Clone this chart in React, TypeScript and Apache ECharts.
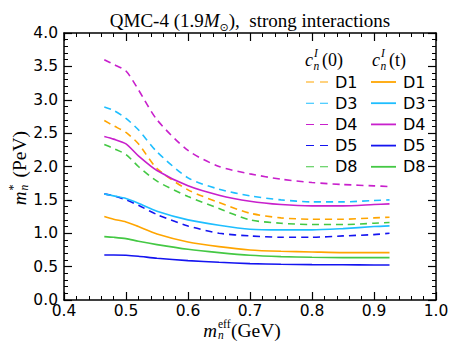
import React, { useEffect, useRef } from "react";
import * as echarts from "echarts";

const xs = [0.465, 0.48, 0.5, 0.52, 0.55, 0.6, 0.65, 0.7, 0.75, 0.8, 0.85, 0.9, 0.925];
const labels = ["D1", "D3", "D4", "D5", "D8"];
const colors = ["#FFA500", "#1EBEFF", "#C820CC", "#1414F0", "#44C844"];

// c_n^I(0): dashed
const d1Const = [2.69, 2.61, 2.51, 2.34, 1.97, 1.65, 1.46, 1.3, 1.23, 1.21, 1.21, 1.23, 1.24];
const d3Const = [2.89, 2.84, 2.72, 2.55, 2.22, 1.83, 1.66, 1.56, 1.5, 1.47, 1.47, 1.49, 1.5];
const d4Const = [3.6, 3.53, 3.43, 3.15, 2.7, 2.24, 2.0, 1.89, 1.81, 1.76, 1.73, 1.71, 1.7];
const d5Const = [1.59, 1.56, 1.5, 1.42, 1.28, 1.11, 1.0, 0.96, 0.94, 0.94, 0.96, 0.98, 1.0];
const d8Const = [2.33, 2.27, 2.18, 2.0, 1.78, 1.55, 1.37, 1.2, 1.15, 1.13, 1.13, 1.15, 1.16];

// c_n^I(t): solid
const d1Var = [1.25, 1.21, 1.17, 1.1, 0.99, 0.87, 0.8, 0.75, 0.73, 0.72, 0.71, 0.71, 0.71];
const d3Var = [1.59, 1.56, 1.52, 1.45, 1.33, 1.2, 1.12, 1.06, 1.05, 1.05, 1.07, 1.1, 1.11];
const d4Var = [2.45, 2.41, 2.34, 2.16, 1.94, 1.71, 1.57, 1.48, 1.43, 1.41, 1.41, 1.43, 1.44];
const d5Var = [0.675, 0.675, 0.67, 0.655, 0.625, 0.59, 0.565, 0.545, 0.535, 0.53, 0.528, 0.525, 0.525];
const d8Var = [0.95, 0.94, 0.92, 0.88, 0.83, 0.76, 0.71, 0.67, 0.65, 0.64, 0.635, 0.635, 0.635];

const constSets = [d1Const, d3Const, d4Const, d5Const, d8Const];
const varSets = [d1Var, d3Var, d4Var, d5Var, d8Var];

const serif = "'Liberation Serif', 'DejaVu Serif', serif";
const sans = "'DejaVu Sans', sans-serif";

function txt(x: number, y: number, text: string, size: number, opts: any = {}) {
  return {
    type: "text",
    x,
    y,
    silent: true,
    style: {
      text,
      fill: "#000",
      fontFamily: opts.family || serif,
      fontSize: size,
      fontStyle: opts.italic ? "italic" : "normal",
      textAlign: opts.align || "left",
      textVerticalAlign: "middle",
    },
  };
}

export default function App() {
  const ref = useRef<HTMLDivElement>(null);
  useEffect(() => {
    const chart = echarts.init(ref.current!, null, { renderer: "svg" });
    const series: any[] = [];
    labels.forEach((lab, i) => {
      series.push({
        name: lab + "_0",
        type: "line",
        symbol: "none",
        smooth: 0.25,
        xAxisIndex: 0,
        yAxisIndex: 0,
        lineStyle: { color: colors[i], width: 1.6, type: [7, 5] },
        itemStyle: { color: colors[i] },
        data: xs.map((x, k) => [x, constSets[i][k]]),
      });
    });
    labels.forEach((lab, i) => {
      series.push({
        name: lab + "_t",
        type: "line",
        symbol: "none",
        smooth: 0.25,
        xAxisIndex: 0,
        yAxisIndex: 0,
        lineStyle: { color: colors[i], width: 1.6, type: "solid" },
        itemStyle: { color: colors[i] },
        data: xs.map((x, k) => [x, varSets[i][k]]),
      });
    });

    const axisCommon = {
      axisLine: { show: true, onZero: false, lineStyle: { color: "#000", width: 1.5 } },
      axisTick: { show: true, inside: true, length: 8, lineStyle: { color: "#000", width: 1.2 } },
      minorTick: { show: true, splitNumber: 5, length: 4, lineStyle: { color: "#000", width: 1 } },
      splitLine: { show: false },
      minorSplitLine: { show: false },
    };

    const legendCommon = {
      orient: "vertical",
      itemHeight: 1.8,
      itemGap: 5.2,
      selectedMode: false,
      formatter: (n: string) => n.split("_")[0],
      textStyle: { fontFamily: sans, fontSize: 16, color: "#000", padding: [0, 0, 0, 2] },
    };

    const option: any = {
      animation: false,
      backgroundColor: "#fff",
      grid: { left: 64, right: 21, top: 33, bottom: 58, containLabel: false },
      xAxis: [
        {
          type: "value",
          min: 0.4,
          max: 1.0,
          interval: 0.1,
          position: "bottom",
          ...axisCommon,
          axisLabel: {
            color: "#000",
            fontFamily: sans,
            fontSize: 15.5,
            margin: 3,
            formatter: (v: number) => v.toFixed(1),
          },
        },
        {
          type: "value",
          min: 0.4,
          max: 1.0,
          interval: 0.1,
          position: "top",
          ...axisCommon,
          axisLabel: { show: false },
        },
      ],
      yAxis: [
        {
          type: "value",
          min: 0,
          max: 4,
          interval: 0.5,
          position: "left",
          ...axisCommon,
          axisLabel: {
            color: "#000",
            fontFamily: sans,
            fontSize: 15.5,
            margin: 6,
            formatter: (v: number) => v.toFixed(1),
          },
        },
        {
          type: "value",
          min: 0,
          max: 4,
          interval: 0.5,
          position: "right",
          ...axisCommon,
          axisLabel: { show: false },
        },
      ],
      legend: [
        {
          ...legendCommon,
          left: 301,
          top: 69,
          itemWidth: 22,
          icon: "path://M0,0H8V1H0Z M14,0H22V1H14Z",
          data: labels.map((l) => l + "_0"),
        },
        {
          ...legendCommon,
          left: 366,
          top: 69,
          itemWidth: 25,
          icon: "rect",
          data: labels.map((l) => l + "_t"),
        },
      ],
      graphic: [
        {
          type: "text",
          x: 250,
          y: 20,
          silent: true,
          style: {
            text: "{r|QMC-4 (1.9}{i|M}{s|⊙}{r|),  strong interactions}",
            fill: "#000",
            textAlign: "center",
            textVerticalAlign: "middle",
            rich: {
              r: { fontFamily: serif, fontSize: 19, lineHeight: 26, verticalAlign: "middle", fill: "#000" },
              i: { fontFamily: serif, fontSize: 19, fontStyle: "italic", lineHeight: 26, verticalAlign: "middle", fill: "#000" },
              s: { fontFamily: sans, fontSize: 11, lineHeight: 13, verticalAlign: "bottom", fill: "#000" },
            },
          },
        },
        // legend headers
        txt(305, 60, "c", 18, { italic: true }),
        txt(314, 52.5, "I", 11.5, { italic: true }),
        txt(313.5, 65.5, "n", 11.5, { italic: true }),
        txt(322, 60, "(0)", 18),
        txt(372, 60, "c", 18, { italic: true }),
        txt(381, 52.5, "I", 11.5, { italic: true }),
        txt(380.5, 65.5, "n", 11.5, { italic: true }),
        txt(389, 60, "(t)", 18),
        // x axis name
        txt(217, 330, "m", 19, { italic: true, align: "right" }),
        txt(218, 323.5, "eff", 11.5),
        txt(218, 334.5, "n", 11.5, { italic: true }),
        txt(231, 330, "(GeV)", 19.5),
        // y axis name (rotated)
        {
          type: "group",
          x: 19,
          y: 167.5,
          rotation: Math.PI / 2,
          children: [
            txt(-24, 0, "m", 19, { italic: true, align: "right" }),
            txt(-23, -6, "*", 12),
            txt(-23, 5, "n", 11.5, { italic: true }),
            txt(-10, 0, "(PeV)", 19.5),
          ],
        },
      ],
      series,
    };
    chart.setOption(option);
    return () => chart.dispose();
  }, []);
  return (
    <div
      ref={ref}
      style={{ width: 457, height: 358, position: "absolute", left: 0, top: 0 }}
    />
  );
}
